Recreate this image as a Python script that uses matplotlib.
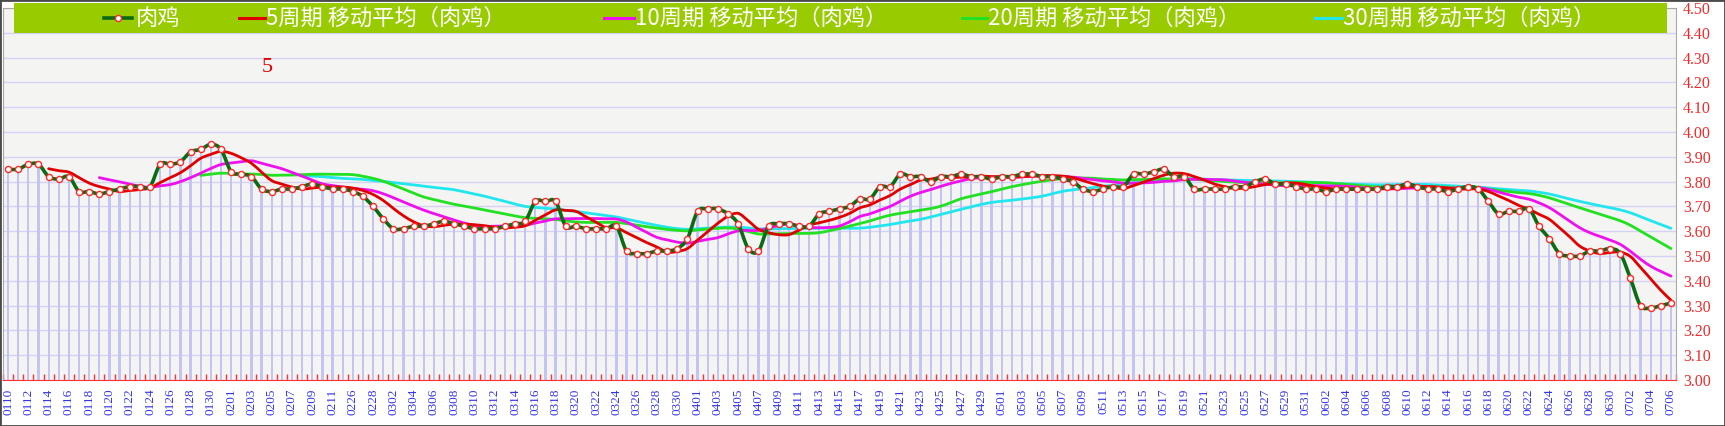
import numpy as np
import pandas as pd
import matplotlib
matplotlib.use('Agg')
import matplotlib.pyplot as plt
from matplotlib.path import Path
from matplotlib.patches import PathPatch, Rectangle
from matplotlib.lines import Line2D

# ---------------- data ----------------
dates = ([d.strftime('%m%d') for d in pd.date_range('2023-01-10', '2023-02-12')] +
         [d.strftime('%m%d') for d in pd.date_range('2023-02-26', '2023-07-06')])

price = [3.85, 3.85, 3.87, 3.87, 3.82, 3.81, 3.82, 3.76, 3.76, 3.75,
         3.76, 3.77, 3.78, 3.78, 3.78, 3.87, 3.87, 3.88, 3.92, 3.93,
         3.95, 3.93, 3.84, 3.83, 3.82, 3.77, 3.76, 3.77, 3.77, 3.78,
         3.79, 3.78, 3.77, 3.77, 3.76, 3.74, 3.70, 3.65, 3.61, 3.61,
         3.62, 3.62, 3.63, 3.64, 3.63, 3.62, 3.61, 3.61, 3.61, 3.62,
         3.63, 3.64, 3.72, 3.72, 3.72, 3.62, 3.62, 3.61, 3.61, 3.61,
         3.62, 3.52, 3.51, 3.51, 3.52, 3.52, 3.53, 3.57, 3.68, 3.69,
         3.69, 3.67, 3.63, 3.53, 3.52, 3.62, 3.63, 3.63, 3.62, 3.62,
         3.67, 3.68, 3.69, 3.70, 3.73, 3.73, 3.78, 3.78, 3.83, 3.82,
         3.82, 3.80, 3.82, 3.82, 3.83, 3.82, 3.82, 3.81, 3.82, 3.82,
         3.83, 3.83, 3.82, 3.82, 3.81, 3.80, 3.77, 3.76, 3.77, 3.78,
         3.78, 3.83, 3.83, 3.84, 3.85, 3.82, 3.82, 3.77, 3.77, 3.77,
         3.77, 3.78, 3.78, 3.80, 3.81, 3.79, 3.79, 3.78, 3.77, 3.77,
         3.76, 3.77, 3.77, 3.77, 3.77, 3.77, 3.78, 3.78, 3.79, 3.78,
         3.77, 3.77, 3.76, 3.77, 3.78, 3.77, 3.72, 3.67, 3.68, 3.68,
         3.69, 3.62, 3.57, 3.51, 3.50, 3.50, 3.52, 3.52, 3.53, 3.51,
         3.41, 3.30, 3.29, 3.30, 3.31]

series_name = '肉鸡'
ma_periods = [5, 10, 20, 30]
ma_labels = [f'{p}周期 移动平均（{series_name}）' for p in ma_periods]
ma_colors = ['#e00000', '#ee11ee', '#22e022', '#22e6ee']
yticks = np.round(np.arange(3.0, 4.501, 0.1), 2)
note_text = '5'

# ---------------- figure ----------------
W, H = 1725, 426
fig = plt.figure(figsize=(W / 100, H / 100), dpi=100)
fig.patch.set_facecolor('white')

def fx(px):
    return px / W

def fy(py):
    return 1 - py / H

ax = fig.add_axes([fx(3), 46 / H, 1673 / W, 372 / H])
ax.set_facecolor('#f4f4f2')

x = np.arange(len(price))
p = np.array(price)

def smooth_path(xs, ys):
    pts = np.column_stack([xs, ys]).astype(float)
    n = len(pts)
    verts = [pts[0]]
    codes = [Path.MOVETO]
    for i in range(n - 1):
        p0 = pts[i - 1] if i > 0 else pts[i]
        p1 = pts[i]
        p2 = pts[i + 1]
        p3 = pts[i + 2] if i + 2 < n else pts[i + 1]
        c1 = p1 + (p2 - p0) / 6.0
        c2 = p2 - (p3 - p1) / 6.0
        verts += [c1, c2, p2]
        codes += [Path.CURVE4] * 3
    return Path(verts, codes)

# drop bars
ax.bar(x, p - 3.0, bottom=3.0, width=0.22, color='#c4c4f4', zorder=1)

# moving averages
for per, col in zip(ma_periods[::-1], ma_colors[::-1]):
    ma = np.convolve(p, np.ones(per) / per, mode='valid')
    xs = x[per - 1:]
    ax.add_patch(PathPatch(smooth_path(xs, ma), fill=False, edgecolor=col,
                           lw=2.0, zorder=3, capstyle='round', joinstyle='round'))

# main series
ax.add_patch(PathPatch(smooth_path(x, p), fill=False, edgecolor='#0b6b12',
                       lw=2.6, zorder=4, joinstyle='round'))
ax.plot(x, p, ls='none', marker='o', ms=4.4, mfc='white', mec='#ff2a2a',
        mew=1.0, zorder=5)

ax.set_xlim(-0.5, len(price) - 0.5)
ax.set_ylim(3.0, 4.5)

ax.set_yticks(yticks)
ax.set_yticklabels([f'{v:.2f}' for v in yticks], color='#ee2a2a',
                   fontsize=11.5, family='Liberation Serif')
ax.yaxis.tick_right()
ax.tick_params(axis='y', which='both', length=0, pad=5)
ax.yaxis.grid(True, color='#d2d2f6', lw=1.0)
ax.set_axisbelow(True)

ax.set_xticks(x[::2])
ax.set_xticklabels(dates[::2], rotation=90, color='#3535e6', fontsize=9.5,
                   family='Liberation Serif')
ax.tick_params(axis='x', length=0, pad=6)
ax.set_xticks(np.arange(-0.5, len(price), 1.0), minor=True)
ax.tick_params(axis='x', which='minor', direction='in', length=4,
               color='#ff3030', width=1)

for s in ['left', 'right', 'top']:
    ax.spines[s].set_color('#a8a8a8')
ax.spines['bottom'].set_color('#ff3030')

# note text
fig.text(fx(267), fy(67), note_text, color='#dd0000', fontsize=16,
         family='Liberation Serif', ha='center', va='center')

# legend box
fig.patches.append(Rectangle((fx(14), fy(33)), (1667 - 14) / W, 30 / H,
                             transform=fig.transFigure, facecolor='#99cc00',
                             edgecolor='none', zorder=5))
ly = fy(18)
leg_lines = [(104, 132, '#0b6b12', series_name, 136)]
leg_pos = [(239, 265, 266), (604, 634, 635), (962, 987, 988), (1315, 1342, 1343)]
for (x0, x1, tx), col, lab in zip(leg_pos, ma_colors, ma_labels):
    leg_lines.append((x0, x1, col, lab, tx))
for k, (x0, x1, col, lab, tx) in enumerate(leg_lines):
    fig.lines.append(Line2D([fx(x0), fx(x1)], [ly, ly], transform=fig.transFigure,
                            color=col, lw=2.6 if k == 0 else 2.2, zorder=6))
    if k == 0:
        fig.lines.append(Line2D([fx((x0 + x1) / 2)], [ly], transform=fig.transFigure,
                                ls='none', marker='o', ms=4.4, mfc='white',
                                mec='#ff2a2a', mew=1.0, zorder=7))
    fig.text(fx(tx), ly, lab, color='white', fontsize=16,
             family=['Noto Sans CJK SC', 'DejaVu Sans'], ha='left', va='center',
             zorder=7)

# outer frame
fig.patches.append(Rectangle((0, 0), 1, 1, transform=fig.transFigure, fill=False,
                             edgecolor='#4a4a4a', lw=2.0, zorder=10))

fig.savefig('out.png', dpi=100)
